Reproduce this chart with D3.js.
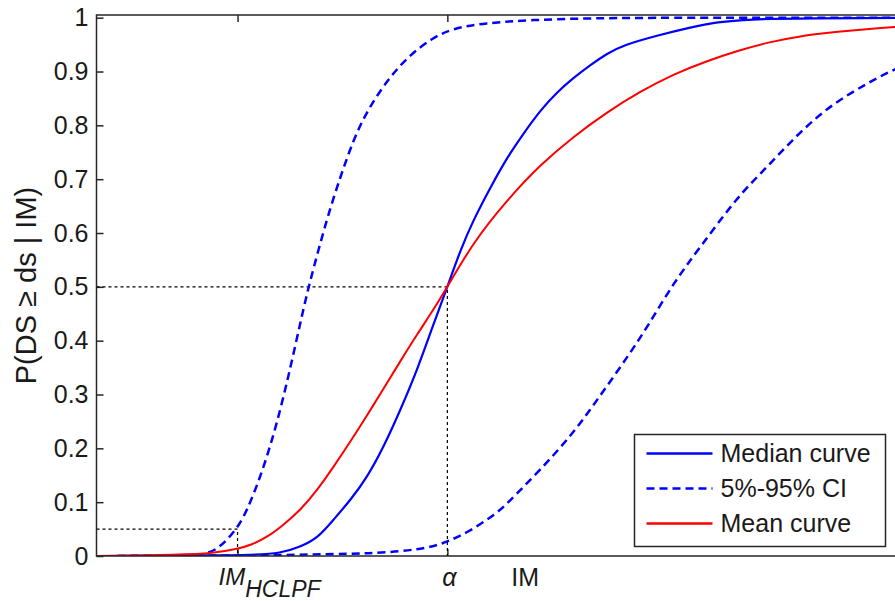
<!DOCTYPE html>
<html>
<head>
<meta charset="utf-8">
<script src="https://cdn.jsdelivr.net/npm/d3@7"></script>
<style>
body {
	margin: 0;
	background: #fff;
}
svg {
	display: block;
	font-family: "Liberation Sans", Arial, sans-serif;
}
.tick text {
	font-size: 25px;
	fill: #1a1a1a;
}
.tick line {
	stroke: #262626;
	stroke-width: 1.5;
}
.frame {
	fill: none;
	stroke: #262626;
	stroke-width: 1.5;
}
.guide {
	fill: none;
	stroke: #000;
	stroke-width: 1.2;
	stroke-dasharray: 3, 3;
}
.curve {
	fill: none;
	stroke-linejoin: round;
}
</style>
</head>
<body>
<svg id="chart" width="895" height="601"></svg>
<script>
// y ticks
var yTicks = [0, 0.1, 0.2, 0.3, 0.4, 0.5, 0.6, 0.7, 0.8, 0.9, 1];
var yTickLabels = ["0", "0.1", "0.2", "0.3", "0.4", "0.5", "0.6", "0.7", "0.8", "0.9", "1"];

// IM is expressed relative to the median capacity alpha (= 1)
var imHclpf = 0.402;
var imAlpha = 1.0;
var pHclpf = 0.05;
var pAlpha = 0.5;

// [IM, P]
var medianCurve = [[0.06,0],[0.30,0.001],[0.45,0.002],[0.524,0.005],[0.581,0.017],[0.630,0.033],[0.675,0.067],[0.724,0.104],[0.772,0.147],[0.818,0.202],[0.866,0.271],[0.915,0.347],[0.960,0.430],[1.0,0.5],[1.037,0.568],[1.074,0.624],[1.123,0.685],[1.171,0.741],[1.217,0.785],[1.265,0.828],[1.313,0.862],[1.359,0.888],[1.407,0.912],[1.454,0.933],[1.501,0.949],[1.598,0.967],[1.692,0.982],[1.769,0.992],[1.863,0.997],[2.0,0.999],[2.44,1.0]];

var meanCurve = [[0.003,0],[0.24,0.002],[0.333,0.005],[0.402,0.013],[0.439,0.02],[0.487,0.035],[0.533,0.058],[0.581,0.085],[0.630,0.123],[0.675,0.165],[0.724,0.213],[0.772,0.262],[0.818,0.311],[0.866,0.362],[0.915,0.413],[0.960,0.457],[1.0,0.5],[1.074,0.583],[1.171,0.662],[1.265,0.727],[1.359,0.779],[1.456,0.825],[1.550,0.863],[1.644,0.895],[1.741,0.920],[1.835,0.940],[1.912,0.954],[2.006,0.966],[2.100,0.973],[2.197,0.979],[2.276,0.983],[2.44,0.988]];

// 95% confidence (left dashed) and 5% confidence (right dashed)
var ciUpper = [[0.06,0],[0.25,0.001],[0.296,0.002],[0.316,0.006],[0.345,0.012],[0.402,0.05],[0.439,0.098],[0.487,0.184],[0.524,0.271],[0.553,0.351],[0.581,0.433],[0.604,0.5],[0.658,0.63],[0.695,0.704],[0.732,0.773],[0.772,0.828],[0.829,0.884],[0.886,0.927],[0.960,0.964],[1.017,0.98],[1.103,0.99],[1.245,0.996],[1.4,0.999],[1.6,1],[2.44,1]];

var ciLower = [[0.06,0],[0.5,0.001],[0.70,0.004],[0.772,0.005],[0.866,0.008],[0.960,0.017],[1.0,0.027],[1.057,0.043],[1.142,0.08],[1.171,0.098],[1.265,0.16],[1.359,0.228],[1.427,0.29],[1.501,0.358],[1.570,0.425],[1.644,0.507],[1.721,0.574],[1.826,0.667],[1.912,0.723],[2.006,0.789],[2.100,0.841],[2.197,0.878],[2.276,0.906],[2.44,0.945]];

var legendLabels = ["Median curve", "5%-95% CI", "Mean curve"];

var margin = {top: 15, left: 96.5, bottom: 556};
var plotRight = 954;  // the original figure is cropped on the right

var svg = d3.select("#chart");

var x = d3.scaleLinear().domain([0, 2.444]).range([margin.left, plotRight]);
var y = d3.scaleLinear().domain([0, 1.005]).range([margin.bottom, margin.top]);

svg.append("defs").append("clipPath")
	.attr("id", "plotclip")
	.append("rect")
		.attr("x", margin.left)
		.attr("y", margin.top)
		.attr("width", plotRight - margin.left)
		.attr("height", margin.bottom - margin.top);

// axes (ticks point inward, as in matlab)
svg.append("g")
	.attr("transform", "translate(" + margin.left + ",0)")
	.call(d3.axisLeft(y).tickValues(yTicks).tickSize(-7).tickPadding(8)
		.tickFormat(function(d, i) { return yTickLabels[i]; }))
	.call(function(g) { g.select(".domain").remove(); });

svg.append("g")
	.attr("transform", "translate(0," + margin.bottom + ")")
	.call(d3.axisBottom(x).tickValues([imHclpf, imAlpha]).tickSize(-7).tickFormat(""))
	.call(function(g) { g.select(".domain").remove(); });

svg.append("g")
	.attr("transform", "translate(0," + margin.top + ")")
	.call(d3.axisTop(x).tickValues([imHclpf, imAlpha]).tickSize(-7).tickFormat(""))
	.call(function(g) { g.select(".domain").remove(); });

// guide lines for HCLPF and alpha
var guides = [
	[[0, pAlpha], [imAlpha, pAlpha], [imAlpha, 0]],
	[[0, pHclpf], [imHclpf, pHclpf], [imHclpf, 0]]
];
var guideLine = d3.line().x(function(d) { return x(d[0]); }).y(function(d) { return y(d[1]); });
svg.selectAll("path.guide")
	.data(guides)
	.enter().append("path")
		.attr("class", "guide")
		.attr("d", guideLine);

// curves
var line = d3.line()
	.x(function(d) { return x(d[0]); })
	.y(function(d) { return y(d[1]); })
	.curve(d3.curveBasis);

var series = [
	{data: medianCurve, color: "#0000ff", dash: null, width: 2.2},
	{data: ciUpper, color: "#0000ff", dash: "8,5", width: 2.5},
	{data: ciLower, color: "#0000ff", dash: "8,5", width: 2.5},
	{data: meanCurve, color: "#ff0000", dash: null, width: 2}
];

svg.append("g")
	.attr("clip-path", "url(#plotclip)")
	.selectAll("path")
	.data(series)
	.enter().append("path")
		.attr("class", "curve")
		.attr("d", function(d) { return line(d.data); })
		.attr("stroke", function(d) { return d.color; })
		.attr("stroke-width", function(d) { return d.width; })
		.attr("stroke-dasharray", function(d) { return d.dash; });

// frame
svg.append("rect")
	.attr("class", "frame")
	.attr("x", margin.left)
	.attr("y", margin.top)
	.attr("width", plotRight - margin.left)
	.attr("height", margin.bottom - margin.top);

// x tick labels
var hclpfLabel = svg.append("text")
	.attr("x", x(imHclpf) - 19)
	.attr("y", 585)
	.style("font-size", "24px")
	.style("font-style", "italic")
	.style("fill", "#1a1a1a");
hclpfLabel.append("tspan").text("IM");
hclpfLabel.append("tspan").attr("dy", 12).style("font-size", "23px").text("HCLPF");

svg.append("text")
	.attr("x", x(imAlpha) + 2)
	.attr("y", 586)
	.attr("text-anchor", "middle")
	.style("font-size", "25px")
	.style("font-style", "italic")
	.style("fill", "#1a1a1a")
	.text("\u03b1");

// axis labels
svg.append("text")
	.attr("x", (margin.left + plotRight) / 2)
	.attr("y", 586)
	.attr("text-anchor", "middle")
	.style("font-size", "25px")
	.style("fill", "#1a1a1a")
	.text("IM");

svg.append("text")
	.attr("transform", "translate(36," + ((margin.top + margin.bottom) / 2) + ") rotate(-90)")
	.attr("text-anchor", "middle")
	.style("font-size", "29px")
	.style("fill", "#1a1a1a")
	.text("P(DS \u2265 ds | IM)");

// legend
var legend = svg.append("g").attr("transform", "translate(634.5,434.5)");
legend.append("rect")
	.attr("width", 251)
	.attr("height", 112)
	.attr("fill", "#fff")
	.attr("stroke", "#262626")
	.attr("stroke-width", 1.5);

var legendRow = legend.selectAll("g.row")
	.data(legendLabels)
	.enter().append("g")
		.attr("class", "row")
		.attr("transform", function(d, i) { return "translate(0," + (19 + i * 35) + ")"; });

var legendStyle = [series[0], series[1], series[3]];
legendRow.append("line")
	.attr("x1", 12)
	.attr("x2", 78)
	.attr("stroke", function(d, i) { return legendStyle[i].color; })
	.attr("stroke-width", 2.5)
	.attr("stroke-dasharray", function(d, i) { return legendStyle[i].dash; });

legendRow.append("text")
	.attr("x", 86)
	.attr("dy", "0.35em")
	.style("font-size", "25px")
	.style("fill", "#1a1a1a")
	.text(function(d) { return d; });
</script>
</body>
</html>
